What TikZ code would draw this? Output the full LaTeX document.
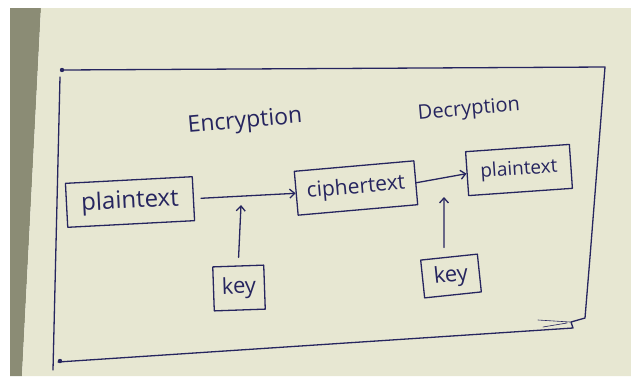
\documentclass[tikz,border=0pt]{standalone}
\usepackage{fontspec}
\setmainfont{Open Sans}
\usetikzlibrary{arrows.meta}
\definecolor{ink}{HTML}{26255F}
\definecolor{paper}{HTML}{E7E7D2}
\definecolor{wall}{HTML}{8B8C75}

\begin{document}
\begin{tikzpicture}[x=1pt,y=-1pt,
	pen/.style={draw=ink,line width=1.3pt,line cap=round,line join=round},
	word/.style={text=ink,font=\fontsize{#1}{#1}\selectfont,inner sep=0pt},
	word/.default=22,
	box/.style={pen,text=ink,inner sep=2pt,minimum height=44pt},
	flow/.style={pen,-{Straight Barb[length=5pt,width=9pt]}}]
	\useasboundingbox (0,0) rectangle (631,376);
	\fill[white] (0,0) rectangle (631,376);
	\fill[wall] (10,8) -- (41,8) -- (22,376) -- (10,376) -- cycle;
	\fill[paper] (41,8) -- (631,8) -- (631,376) -- (22,376) -- cycle;

	\draw[pen] (62,70) -- (605,67) -- (590,257) -- (585,318) -- (571,322) -- (573,328) -- (58,362);
	\draw[pen] (60,77) -- (53,370);
	\fill[ink] (62,70) circle (2.2pt) (60,361) circle (2.2pt);
	\draw[pen,line width=0.6pt] (538,320) -- (570,322) (543,327) -- (567,323);

	\node[word=23,rotate=5] (enc) at (245,122) {Encryption};
	\node[word=20,rotate=5] (dec) at (469,110) {Decryption};

	\node[box,rotate=3,minimum width=127pt,font=\fontsize{24}{24}\selectfont] (plainA) at (130,202) {plaintext};
	\node[box,rotate=5,minimum width=120pt,font=\fontsize{21}{21}\selectfont] (cipher) at (356,188) {ciphertext};
	\node[box,rotate=4,minimum width=104pt,font=\fontsize{19}{19}\selectfont] (plainB) at (519,170) {plaintext};
	\node[box,rotate=2,minimum width=51pt,font=\fontsize{22}{22}\selectfont] (keyA) at (239,288) {key};
	\node[box,rotate=6,minimum width=57pt,minimum height=38pt,font=\fontsize{22}{22}\selectfont] (keyB) at (451,276) {key};

	\coordinate (tipA) at (241,205);
	\coordinate (tipB) at (444,197);
	\draw[flow,shorten <=7pt] (plainA.east) -- (cipher.west);
	\draw[flow,shorten <=8pt] (keyA.north) -- (tipA);
	\draw[flow] (cipher.east) -- (plainB.west);
	\draw[flow,shorten <=9pt] ([xshift=-5pt]keyB.north) -- (tipB);
\end{tikzpicture}
\end{document}
